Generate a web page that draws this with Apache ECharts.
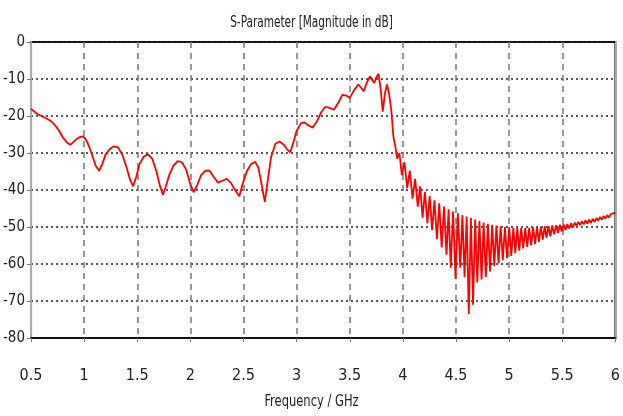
<!DOCTYPE html>
<html lang="en">
<head>
    <meta charset="UTF-8">
    <title>S-Parameter</title>
    <style>
        html, body { margin: 0; padding: 0; background: #fff; }
        #chart { width: 623px; height: 416px; }
    </style>
</head>
<body>
    <div id="chart"></div>
    <script src="https://cdn.jsdelivr.net/npm/echarts@6/dist/echarts.min.js"></script>
    <script>
        // smooth-ish part of the response, 0.5 .. 3.93 GHz
        var lowFreq = [0.50, 0.53, 0.56, 0.60, 0.64, 0.68, 0.72, 0.76, 0.80, 0.84, 0.87, 0.90, 0.93, 0.96, 0.99,
            1.02, 1.05, 1.08, 1.11, 1.14, 1.17, 1.20, 1.24, 1.28, 1.32, 1.36, 1.40, 1.43, 1.46, 1.49,
            1.52, 1.56, 1.60, 1.64, 1.68, 1.71, 1.74, 1.77, 1.80, 1.84, 1.88, 1.92, 1.96, 2.00, 2.03,
            2.06, 2.10, 2.14, 2.18, 2.22, 2.26, 2.30, 2.34, 2.38, 2.42, 2.46, 2.49, 2.53, 2.57, 2.61,
            2.64, 2.67, 2.70, 2.73, 2.76, 2.80, 2.84, 2.88, 2.91, 2.94, 2.97, 3.00, 3.04, 3.07, 3.11,
            3.15, 3.19, 3.23, 3.27, 3.31, 3.35, 3.39, 3.43, 3.47, 3.50, 3.54, 3.58, 3.61, 3.63, 3.66,
            3.69, 3.71, 3.73, 3.75, 3.77, 3.79, 3.81, 3.83, 3.85, 3.87, 3.89, 3.91, 3.93];
        var lowDb = [-18.0, -18.8, -19.5, -20.0, -20.6, -21.2, -22.3, -23.8, -25.8, -27.2, -27.8, -27.0, -26.2, -25.7, -25.5,
            -26.5, -28.5, -31.0, -33.5, -34.8, -33.0, -30.5, -29.0, -28.2, -28.5, -30.5, -34.0, -37.0, -39.0, -36.5,
            -33.0, -31.0, -30.3, -31.5, -35.0, -38.5, -41.3, -39.0, -36.0, -33.5, -32.2, -32.5, -34.5, -38.5, -40.6,
            -39.0, -36.0, -34.8, -34.8, -36.5, -38.0, -37.5, -37.0, -38.0, -40.0, -41.7, -38.5, -35.0, -33.0, -32.4,
            -34.0, -38.5, -43.2, -37.0, -31.0, -27.5, -26.9, -27.8, -29.0, -29.8, -27.0, -24.0, -22.0, -21.7, -22.5,
            -23.2, -21.5, -19.0, -17.5, -17.8, -18.3, -16.5, -14.3, -14.5, -15.1, -13.0, -11.5, -12.5, -13.3, -11.0,
            -9.3, -10.2, -11.1, -9.5, -8.6, -12.5, -18.8, -14.0, -11.5, -14.0, -18.3, -25.5, -28.5];

        // fast ripple above the passband, alternating troughs and peaks
        var rippleFreq = [3.945, 3.967, 3.990, 4.015, 4.040, 4.065, 4.090, 4.115, 4.140, 4.162,
            4.185, 4.207, 4.230, 4.252, 4.275, 4.297, 4.320, 4.342, 4.365, 4.387,
            4.410, 4.430, 4.450, 4.472, 4.495, 4.517, 4.540, 4.560, 4.580, 4.600,
            4.620, 4.640, 4.660, 4.680, 4.700, 4.720, 4.740, 4.760, 4.780, 4.800,
            4.820, 4.840, 4.860, 4.880, 4.900, 4.920, 4.940, 4.960, 4.980, 5.000,
            5.020, 5.039, 5.058, 5.076, 5.095, 5.113, 5.132, 5.151, 5.170, 5.188,
            5.207, 5.225, 5.244, 5.262, 5.280, 5.298, 5.316, 5.334, 5.352, 5.370,
            5.388, 5.406, 5.424, 5.442, 5.460, 5.477, 5.495, 5.512, 5.530, 5.547,
            5.565, 5.582, 5.600, 5.617, 5.634, 5.651, 5.668, 5.685, 5.702, 5.719,
            5.736, 5.753, 5.770, 5.787, 5.804, 5.821, 5.838, 5.855, 5.872, 5.889,
            5.906, 5.923, 5.940, 5.957, 5.974, 5.990, 6.000];
        var rippleDb = [-31.5, -30.0, -36.0, -32.5, -39.5, -34.8, -42.3, -37.0, -44.5, -39.0,
            -47.5, -40.5, -49.0, -41.6, -50.8, -42.8, -53.3, -43.6, -55.5, -44.5,
            -57.5, -45.2, -61.0, -45.8, -64.0, -46.3, -61.0, -46.8, -63.5, -47.2,
            -73.5, -47.6, -71.0, -48.0, -65.0, -48.4, -64.2, -48.8, -63.5, -49.1,
            -62.0, -49.4, -60.5, -49.6, -59.8, -49.8, -59.0, -50.0, -58.4, -50.1,
            -57.8, -50.2, -57.0, -50.3, -56.4, -50.3, -55.8, -50.3, -55.4, -50.2,
            -55.0, -50.1, -54.6, -50.0, -54.0, -49.9, -53.4, -49.8, -52.9, -49.7,
            -52.5, -49.6, -52.0, -49.5, -51.6, -49.4, -51.2, -49.3, -50.8, -49.2,
            -50.4, -49.0, -50.1, -48.8, -49.7, -48.6, -49.5, -48.4, -49.3, -48.2,
            -49.1, -48.0, -48.9, -47.8, -48.6, -47.6, -48.3, -47.3, -48.0, -47.0,
            -47.7, -46.8, -47.4, -46.5, -47.0, -46.2, -46.4];

        var freqTicks = [0.5, 6, 0.5];   // min, max, step
        var dbTicks = [-80, 0, 10];

        var points = [];
        for (var i = 0; i < lowFreq.length; i++) points.push([lowFreq[i], lowDb[i]]);
        for (var j = 0; j < rippleFreq.length; j++) points.push([rippleFreq[j], rippleDb[j]]);

        var font = "'Liberation Sans Narrow', 'DejaVu Sans Condensed', 'Liberation Sans', sans-serif";

        var chart = echarts.init(document.getElementById('chart'));
        var option = {
            animation: false,
            backgroundColor: '#fff',
            grid: {
                left: 31, right: 2, top: 42, bottom: 78,
                show: true,
                borderColor: '#111',
                borderWidth: 2
            },
            graphic: [
                {
                    type: 'text', left: 'center', top: 16, scaleX: 0.78, originX: 325,
                    style: { text: 'S-Parameter [Magnitude in dB]', font: '15px ' + font, fill: '#222' }
                },
                {
                    type: 'text', left: 'center', top: 394, scaleX: 0.8, originX: 326,
                    style: { text: 'Frequency / GHz', font: '16px ' + font, fill: '#222' }
                }
            ],
            xAxis: {
                type: 'value',
                min: freqTicks[0], max: freqTicks[1], interval: freqTicks[2],
                axisLine: { show: true, onZero: false, lineStyle: { color: '#111', width: 2 } },
                axisTick: { show: true, inside: false, length: 4, lineStyle: { color: '#777', width: 1 } },
                axisLabel: { color: '#222', fontSize: 16, fontFamily: font, margin: 30 },
                splitLine: { show: true, lineStyle: { color: '#777', width: 1.5, type: [6, 5] } }
            },
            yAxis: [
                {
                    type: 'value',
                    min: dbTicks[0], max: dbTicks[1], interval: dbTicks[2],
                    axisLine: { show: true, onZero: false, lineStyle: { color: '#aaa', width: 2 } },
                    axisTick: { show: true, length: 4, lineStyle: { color: '#777' } },
                    axisLabel: { color: '#222', fontSize: 15, fontFamily: font, margin: 6 },
                    splitLine: { show: true, lineStyle: { color: '#222', width: 1.5, type: [2, 3] } }
                },
                {
                    type: 'value', position: 'right',
                    min: dbTicks[0], max: dbTicks[1], interval: dbTicks[2],
                    axisLine: { show: true, onZero: false, lineStyle: { color: '#aaa', width: 2 } },
                    axisTick: { show: false }, axisLabel: { show: false }, splitLine: { show: false }
                }
            ],
            series: [{
                type: 'line',
                data: points,
                showSymbol: false,
                lineStyle: { color: '#ff0000', width: 1.8 },
                z: 5
            }]
        };
        chart.setOption(option);
    </script>
</body>
</html>
